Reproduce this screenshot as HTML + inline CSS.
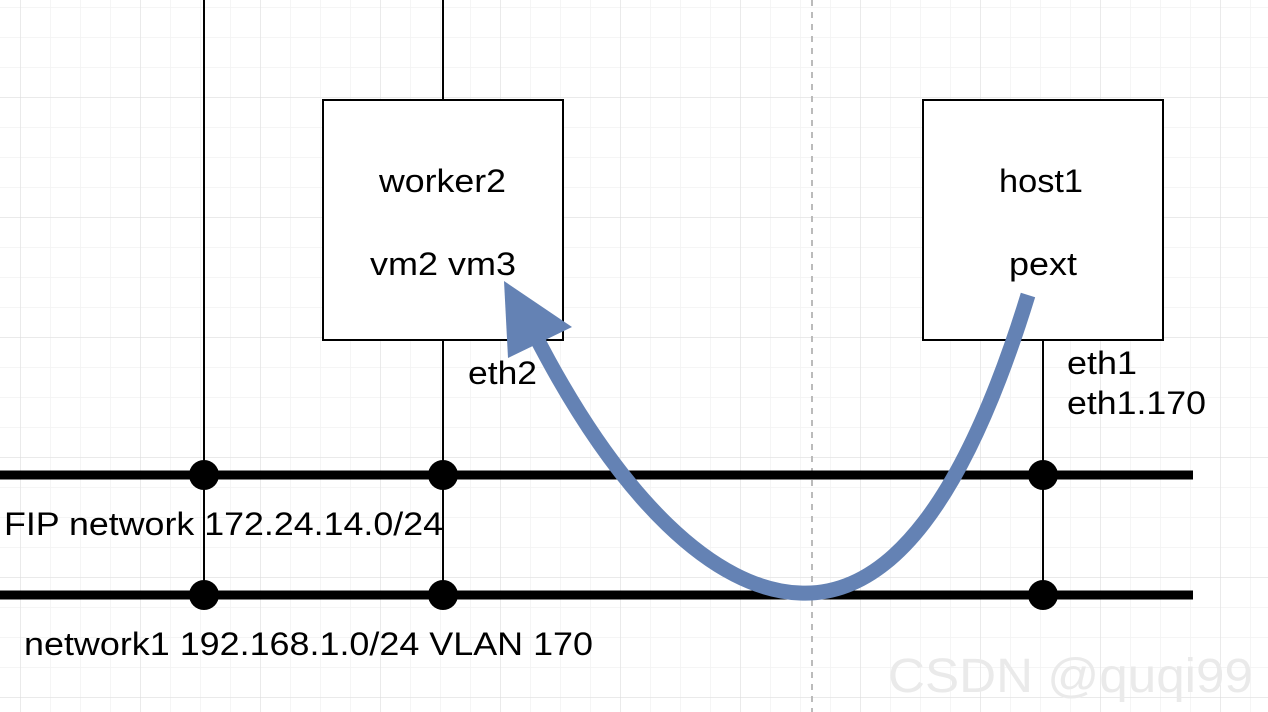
<!DOCTYPE html>
<html><head><meta charset="utf-8"><style>
html,body{margin:0;padding:0;background:#fff;}
svg{display:block}
text{font-family:"Liberation Sans",Arial,sans-serif;font-size:32px;fill:#000}
</style></head><body>
<svg width="1268" height="712" viewBox="0 0 1268 712" xmlns="http://www.w3.org/2000/svg">
<defs>
<pattern id="minor" x="20" y="7" width="30" height="30" patternUnits="userSpaceOnUse">
<path d="M0 0V30M0 0H30" stroke="#f2f2f2" stroke-width="1.5" fill="none"/>
</pattern>
<pattern id="major" x="20" y="97" width="120" height="120" patternUnits="userSpaceOnUse">
<path d="M0 0V120M0 0H120" stroke="#dcdcdc" stroke-width="1" fill="none"/>
</pattern>
</defs>
<rect width="1268" height="712" fill="url(#minor)"/>
<rect width="1268" height="712" fill="url(#major)"/>
<line x1="812" y1="0" x2="812" y2="712" stroke="#bbb" stroke-width="2" stroke-dasharray="6,6"/>
<g stroke="#000" stroke-width="2">
<line x1="204" y1="0" x2="204" y2="595"/>
<line x1="443" y1="0" x2="443" y2="100"/>
<line x1="443" y1="340" x2="443" y2="595"/>
<line x1="1043" y1="340" x2="1043" y2="595"/>
</g>
<rect x="323" y="100" width="240" height="240" fill="#fff" stroke="#000" stroke-width="2"/>
<rect x="923" y="100" width="240" height="240" fill="#fff" stroke="#000" stroke-width="2"/>
<line x1="0" y1="475" x2="1193" y2="475" stroke="#000" stroke-width="9"/>
<line x1="0" y1="595" x2="1193" y2="595" stroke="#000" stroke-width="9"/>
<g fill="#000">
<circle cx="204" cy="475" r="15"/><circle cx="443" cy="475" r="15"/><circle cx="1043" cy="475" r="15"/>
<circle cx="204" cy="595" r="15"/><circle cx="443" cy="595" r="15"/><circle cx="1043" cy="595" r="15"/>
</g>
<path d="M1028,295 C 965,500 890,597 800,593 C 715,590 620,500 535,335" fill="none" stroke="#6482b4" stroke-width="15"/>
<polygon points="504,281 572,327 508,358" fill="#6482b4"/>
<text x="379" y="192" textLength="127" lengthAdjust="spacingAndGlyphs">worker2</text>
<text x="370" y="275" textLength="146" lengthAdjust="spacingAndGlyphs">vm2 vm3</text>
<text x="999" y="192" textLength="84" lengthAdjust="spacingAndGlyphs">host1</text>
<text x="1009" y="275" textLength="68" lengthAdjust="spacingAndGlyphs">pext</text>
<text x="468" y="384" textLength="69" lengthAdjust="spacingAndGlyphs">eth2</text>
<text x="1067" y="374" textLength="70" lengthAdjust="spacingAndGlyphs">eth1</text>
<text x="1067" y="414" textLength="139" lengthAdjust="spacingAndGlyphs">eth1.170</text>
<text x="4" y="535" textLength="439" lengthAdjust="spacingAndGlyphs">FIP network 172.24.14.0/24</text>
<text x="24" y="655" textLength="569" lengthAdjust="spacingAndGlyphs">network1 192.168.1.0/24 VLAN 170</text>
<text x="888" y="692" textLength="365" lengthAdjust="spacingAndGlyphs" style="font-size:48px;fill:#eaeaea">CSDN @quqi99</text>
</svg>
</body></html>
